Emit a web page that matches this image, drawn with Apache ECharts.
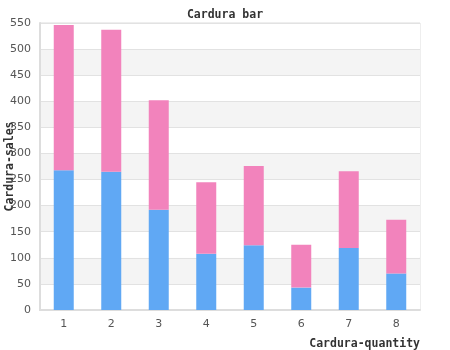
<!DOCTYPE html>
<html>
<head>
<meta charset="utf-8">
<script src="https://cdn.jsdelivr.net/npm/echarts@6/dist/echarts.min.js"></script>
<style>
html, body { margin: 0; padding: 0; background: #fff; }
#main { width: 450px; height: 350px; }
</style>
</head>
<body>
<div id="main"></div>
<script type="text/javascript">
var categories = ['1', '2', '3', '4', '5', '6', '7', '8'];
var baseValues = [268, 265, 192, 108, 124, 43, 119, 70];
var topValues = [278, 272, 210, 137, 152, 82, 147, 103];

var myChart = echarts.init(document.getElementById('main'));
var option = {
    animation: false,
    title: {
        text: 'Cardura bar',
        left: 'center',
        top: 4,
        textStyle: { fontFamily: 'DejaVu Sans Mono', fontSize: 11.5, fontWeight: 'bold', color: '#333' }
    },
    grid: {
        left: 40, right: 30, top: 23, bottom: 40,
        containLabel: false, outerBoundsMode: 'none',
        show: true, borderColor: '#ddd', borderWidth: 1
    },
    xAxis: {
        type: 'category',
        data: categories,
        name: 'Cardura-quantity',
        nameLocation: 'end',
        nameGap: 0,
        nameMoveOverlap: false,
        nameTextStyle: {
            fontFamily: 'DejaVu Sans Mono', fontSize: 11.5, fontWeight: 'bold', color: '#333',
            align: 'right', verticalAlign: 'top', padding: [28, 0, 0, 0]
        },
        axisLine: { lineStyle: { color: '#ddd', width: 2 } },
        axisTick: { show: false },
        axisLabel: { color: '#555', fontFamily: 'DejaVu Sans', fontSize: 11, margin: 9 }
    },
    yAxis: {
        type: 'value',
        min: 0,
        max: 550,
        interval: 50,
        name: 'Cardura-sales',
        nameLocation: 'middle',
        nameGap: 24,
        nameMoveOverlap: false,
        nameTextStyle: { fontFamily: 'DejaVu Sans Mono', fontSize: 11.5, fontWeight: 'bold', color: '#333' },
        axisLine: { show: true, lineStyle: { color: '#ddd', width: 2 } },
        axisTick: { show: false },
        axisLabel: { color: '#555', fontFamily: 'DejaVu Sans', fontSize: 11, margin: 9 },
        splitLine: { lineStyle: { color: '#e2e2e2' } },
        splitArea: { show: true, areaStyle: { color: ['#ffffff', '#f4f4f4'] } }
    },
    series: [
        {
            type: 'bar',
            stack: 'total',
            barWidth: 20,
            data: baseValues,
            itemStyle: { color: '#60a8f4' }
        },
        {
            type: 'bar',
            stack: 'total',
            barWidth: 20,
            data: topValues,
            itemStyle: { color: '#f283bc' }
        }
    ]
};
myChart.setOption(option);
</script>
</body>
</html>
